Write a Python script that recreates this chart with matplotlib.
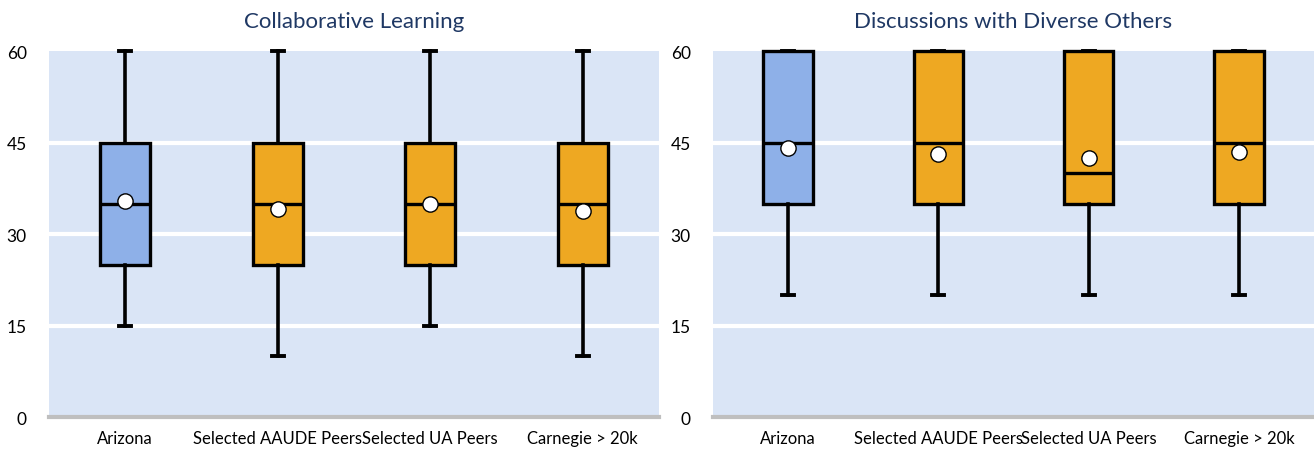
import matplotlib.pyplot as plt

# Data
categories = ['Arizona', 'Selected AAUDE Peers', 'Selected UA Peers', 'Carnegie > 20k']

collab_min = [15, 10, 15, 10]
collab_q1 = [25, 25, 25, 25]
collab_med = [35, 35, 35, 35]
collab_q3 = [45, 45, 45, 45]
collab_max = [60, 60, 60, 60]
collab_mean = [35.4, 34.1, 34.9, 33.8]

divers_min = [20, 20, 20, 20]
divers_q1 = [35, 35, 35, 35]
divers_med = [45, 45, 40, 45]
divers_q3 = [60, 60, 60, 60]
divers_max = [60, 60, 60, 60]
divers_mean = [44.1, 43.1, 42.5, 43.4]

yticks = [0, 15, 30, 45, 60]

plt.rcParams['font.family'] = ['Lato', 'DejaVu Sans']

bg = '#dae5f6'
box_colors = ['#8eb0e8', '#eea822', '#eea822', '#eea822']
title_color = '#1f3864'

fig = plt.figure(figsize=(13.14, 4.52), dpi=100)
ax1 = fig.add_axes([0.0373, 0.0752, 0.4642, 0.8097])
ax2 = fig.add_axes([0.5426, 0.0752, 0.4574, 0.8097])


def draw(ax, title, mins, q1s, meds, q3s, maxs, means):
    stats = []
    for i in range(len(categories)):
        stats.append({'whislo': mins[i], 'q1': q1s[i], 'med': meds[i],
                      'q3': q3s[i], 'whishi': maxs[i], 'mean': means[i],
                      'label': categories[i]})
    ax.set_facecolor(bg)
    for y in yticks[1:-1]:
        ax.axhline(y, color='white', linewidth=3, zorder=1)
    ax.axhline(0, color='#bfbfbf', linewidth=3, zorder=1, clip_on=False)
    bp = ax.bxp(stats, positions=range(len(categories)), widths=0.33,
                patch_artist=True, showmeans=True, showfliers=False,
                capwidths=0.08,
                boxprops=dict(edgecolor='black', linewidth=2.4),
                medianprops=dict(color='black', linewidth=2.4),
                whiskerprops=dict(color='black', linewidth=2.6),
                capprops=dict(color='black', linewidth=2.8),
                meanprops=dict(marker='o', markerfacecolor='white',
                               markeredgecolor='black', markersize=11,
                               markeredgewidth=1))
    for patch, c in zip(bp['boxes'], box_colors):
        patch.set_facecolor(c)
    for key in ['boxes', 'whiskers', 'caps', 'medians', 'means']:
        for art in bp[key]:
            art.set_clip_on(False)
            art.set_zorder(3)
    for art in bp['means']:
        art.set_zorder(4)
    ax.set_xlim(-0.5, len(categories) - 0.5)
    ax.set_ylim(0, 60)
    ax.set_yticks(yticks)
    ax.set_xticks(range(len(categories)))
    ax.set_xticklabels(categories)
    ax.tick_params(axis='both', length=0, labelsize=12.5)
    ax.tick_params(axis='x', pad=9, labelsize=12)
    ax.tick_params(axis='y', pad=16)
    for s in ax.spines.values():
        s.set_visible(False)
    ax.set_title(title, color=title_color, fontsize=16, pad=17)


draw(ax1, 'Collaborative Learning', collab_min, collab_q1, collab_med,
     collab_q3, collab_max, collab_mean)
draw(ax2, 'Discussions with Diverse Others', divers_min, divers_q1, divers_med,
     divers_q3, divers_max, divers_mean)

fig.savefig('out.png', dpi=100, facecolor='white')
plt.close(fig)
